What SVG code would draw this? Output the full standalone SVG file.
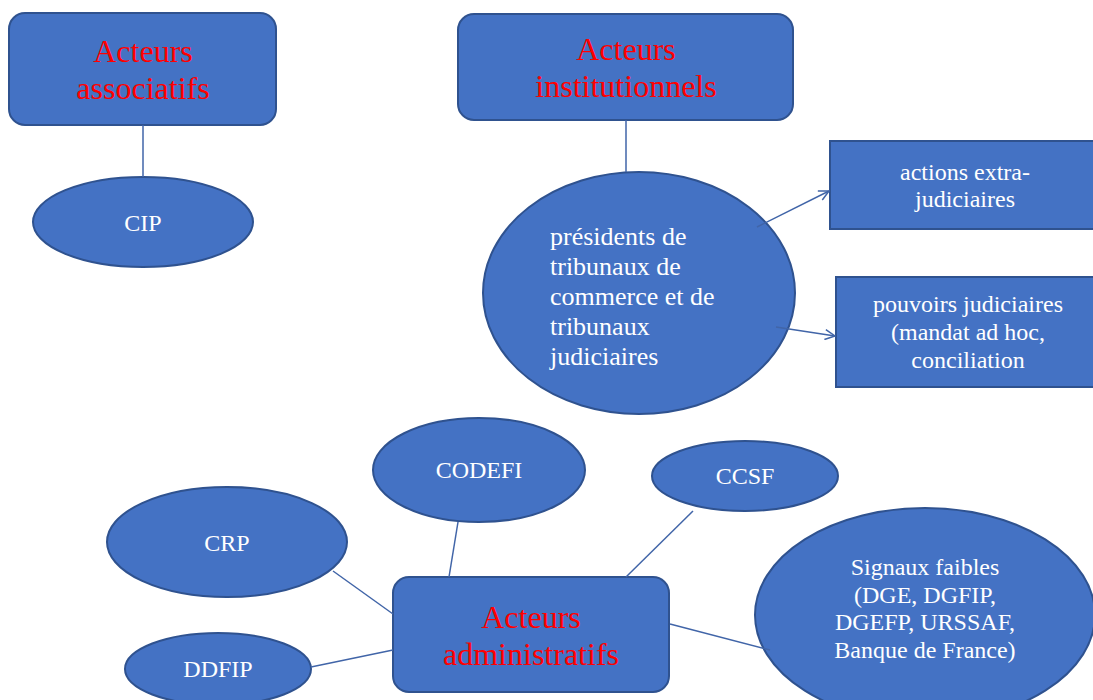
<svg xmlns="http://www.w3.org/2000/svg" width="1093" height="700" viewBox="0 0 1093 700">
<defs>
<style>
.shape{fill:#4472C4;stroke:#2F528F;stroke-width:2}
.title{font-family:"Liberation Serif","Times New Roman",serif;font-size:32px;fill:#FF0000;text-anchor:middle}
.lbl{font-family:"Liberation Serif","Times New Roman",serif;font-size:24px;fill:#FFFFFF;text-anchor:middle}
.conn{stroke:#4165A8;stroke-width:1.5;fill:none}
</style>
<marker id="arr" viewBox="0 0 12 12" refX="11" refY="6" markerWidth="12" markerHeight="12" markerUnits="userSpaceOnUse" orient="auto">
<path d="M1,1 L11,6 L1,11" fill="none" stroke="#4165A8" stroke-width="1.5"/>
</marker>
</defs>
<rect width="1093" height="700" fill="#FFFFFF"/>
<g id="acteurs-associatifs">
<rect class="shape" x="9" y="13" width="267" height="112" rx="16"/>
<text class="title" x="143" y="62">Acteurs</text>
<text class="title" x="143" y="99">associatifs</text>
</g>
<g id="cip">
<ellipse class="shape" cx="143" cy="222" rx="110" ry="45"/>
<text class="lbl" x="143" y="231">CIP</text>
</g>
<g id="acteurs-institutionnels">
<rect class="shape" x="458" y="14" width="335" height="106" rx="16"/>
<text class="title" x="626" y="60">Acteurs</text>
<text class="title" x="626" y="97">institutionnels</text>
</g>
<g id="presidents">
<ellipse class="shape" cx="639" cy="293" rx="156" ry="121"/>
<text font-family="'Liberation Serif','Times New Roman',serif" font-size="26" fill="#FFFFFF">
<tspan x="550" y="245">présidents de</tspan>
<tspan x="550" y="275">tribunaux de</tspan>
<tspan x="550" y="305">commerce et de</tspan>
<tspan x="550" y="335">tribunaux</tspan>
<tspan x="550" y="365">judiciaires</tspan>
</text>
</g>
<g id="actions-extra">
<rect class="shape" x="830" y="141" width="270" height="88"/>
<text class="lbl" x="965" y="180">actions extra-</text>
<text class="lbl" x="965" y="207">judiciaires</text>
</g>
<g id="pouvoirs-judiciaires">
<rect class="shape" x="836" y="277" width="264" height="110"/>
<text class="lbl" x="968" y="312">pouvoirs judiciaires</text>
<text class="lbl" x="968" y="340">(mandat ad hoc,</text>
<text class="lbl" x="968" y="368">conciliation</text>
</g>
<g id="codefi">
<ellipse class="shape" cx="479" cy="470" rx="106" ry="52"/>
<text class="lbl" x="479" y="478">CODEFI</text>
</g>
<g id="ccsf">
<ellipse class="shape" cx="745" cy="476" rx="93" ry="35"/>
<text class="lbl" x="745" y="484">CCSF</text>
</g>
<g id="crp">
<ellipse class="shape" cx="227" cy="542" rx="120" ry="55"/>
<text class="lbl" x="227" y="551">CRP</text>
</g>
<g id="ddfip">
<ellipse class="shape" cx="218" cy="669" rx="93" ry="36"/>
<text class="lbl" x="218" y="677">DDFIP</text>
</g>
<g id="acteurs-administratifs">
<rect class="shape" x="393" y="577" width="276" height="115" rx="16"/>
<text class="title" x="531" y="628">Acteurs</text>
<text class="title" x="531" y="665">administratifs</text>
</g>
<g id="signaux-faibles">
<ellipse class="shape" cx="925" cy="615" rx="170" ry="107"/>
<text class="lbl" x="925" y="575">Signaux faibles</text>
<text class="lbl" x="925" y="603">(DGE, DGFIP,</text>
<text class="lbl" x="925" y="630">DGEFP, URSSAF,</text>
<text class="lbl" x="925" y="658">Banque de France)</text>
</g>
<g id="connectors">
<line class="conn" x1="143" y1="125" x2="143" y2="177"/>
<line class="conn" x1="626" y1="120" x2="626" y2="172"/>
<line class="conn" x1="757" y1="227" x2="829" y2="191" marker-end="url(#arr)"/>
<line class="conn" x1="776" y1="327" x2="835" y2="336" marker-end="url(#arr)"/>
<line class="conn" x1="333" y1="571" x2="393" y2="614"/>
<line class="conn" x1="311" y1="667" x2="393" y2="650"/>
<line class="conn" x1="458" y1="522" x2="449" y2="577"/>
<line class="conn" x1="693" y1="511" x2="626" y2="577"/>
<line class="conn" x1="670" y1="624" x2="770" y2="650"/>
</g>
</svg>
